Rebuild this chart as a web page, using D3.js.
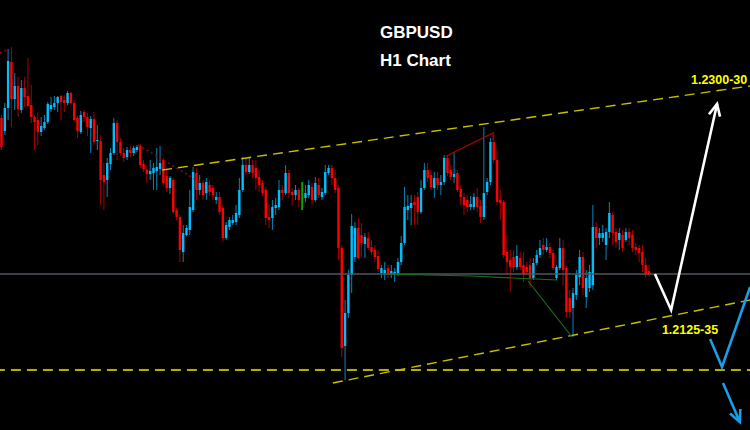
<!DOCTYPE html>
<html><head><meta charset="utf-8">
<script src="https://cdn.jsdelivr.net/npm/d3@7"></script>
<style>html,body{margin:0;padding:0;background:#000;}svg{display:block;}</style>
</head><body>
<script>
// GBPUSD H1 candles (oldest -> newest)
const opens = [1.2282,1.2269,1.2292,1.2338,1.2301,1.2314,1.2290,1.2312,1.2304,1.2295,
1.2283,1.2280,1.2268,1.2272,1.2278,1.2291,1.2293,1.2297,1.2304,1.2300,
1.2297,1.2307,1.2297,1.2282,1.2268,1.2288,1.2283,1.2272,1.2281,1.2259,
1.2259,1.2225,1.2220,1.2236,1.2247,1.2277,1.2258,1.2247,1.2243,1.2250,
1.2247,1.2250,1.2254,1.2236,1.2230,1.2226,1.2227,1.2229,1.2231,1.2240,
1.2224,1.2212,1.2220,1.2190,1.2183,1.2148,1.2165,1.2170,1.2190,1.2227,
1.2210,1.2217,1.2207,1.2215,1.2212,1.2200,1.2203,1.2192,1.2162,1.2173,
1.2177,1.2178,1.2185,1.2210,1.2235,1.2228,1.2235,1.2232,1.2223,1.2217,
1.2210,1.2183,1.2182,1.2192,1.2193,1.2210,1.2207,1.2227,1.2208,1.2205,
1.2210,1.2203,1.2202,1.2205,1.2213,1.2200,1.2215,1.2203,1.2207,1.2227,
1.2232,1.2222,1.2212,1.2152,1.2054,1.2087,1.2125,1.2143,1.2172,1.2165,
1.2156,1.2162,1.2153,1.2150,1.2144,1.2127,1.2126,1.2132,1.2126,1.2125,
1.2127,1.2138,1.2157,1.2190,1.2192,1.2198,1.2203,1.2188,1.2212,1.2230,
1.2225,1.2212,1.2222,1.2215,1.2218,1.2242,1.2230,1.2223,1.2227,1.2211,
1.2203,1.2200,1.2193,1.2193,1.2203,1.2194,1.2183,1.2208,1.2218,1.2258,
1.2240,1.2200,1.2198,1.2148,1.2140,1.2143,1.2133,1.2142,1.2135,1.2133,
1.2135,1.2122,1.2137,1.2145,1.2155,1.2150,1.2153,1.2147,1.2122,1.2132,
1.2152,1.2132,1.2102,1.2092,1.2105,1.2123,1.2143,1.2103,1.2112,1.2115,
1.2173,1.2162,1.2162,1.2155,1.2168,1.2185,1.2168,1.2160,1.2165,1.2160,
1.2168,1.2165,1.2153,1.2152,1.2148,1.2135,1.2129];
const closes = [1.2253,1.2292,1.2339,1.2301,1.2314,1.2291,1.2312,1.2303,1.2294,1.2283,
1.2278,1.2268,1.2274,1.2278,1.2296,1.2295,1.2297,1.2303,1.2298,1.2297,
1.2307,1.2297,1.2280,1.2269,1.2285,1.2283,1.2273,1.2281,1.2258,1.2260,
1.2220,1.2218,1.2237,1.2247,1.2277,1.2258,1.2247,1.2242,1.2250,1.2247,
1.2252,1.2253,1.2235,1.2231,1.2226,1.2229,1.2232,1.2233,1.2237,1.2217,
1.2212,1.2222,1.2188,1.2183,1.2150,1.2167,1.2172,1.2193,1.2228,1.2210,
1.2217,1.2205,1.2218,1.2208,1.2205,1.2203,1.2188,1.2162,1.2175,1.2180,
1.2180,1.2187,1.2210,1.2235,1.2228,1.2235,1.2227,1.2222,1.2215,1.2207,
1.2182,1.2180,1.2193,1.2195,1.2210,1.2207,1.2227,1.2207,1.2205,1.2210,
1.2200,1.2203,1.2207,1.2215,1.2200,1.2217,1.2205,1.2208,1.2228,1.2232,
1.2222,1.2210,1.2152,1.2052,1.2087,1.2125,1.2174,1.2172,1.2142,1.2157,
1.2163,1.2152,1.2148,1.2143,1.2131,1.2132,1.2130,1.2127,1.2129,1.2128,
1.2138,1.2157,1.2193,1.2194,1.2197,1.2195,1.2188,1.2212,1.2230,1.2222,
1.2213,1.2222,1.2215,1.2218,1.2242,1.2227,1.2223,1.2226,1.2210,1.2203,
1.2195,1.2193,1.2196,1.2203,1.2193,1.2183,1.2207,1.2218,1.2258,1.2240,
1.2198,1.2197,1.2145,1.2138,1.2133,1.2133,1.2144,1.2133,1.2125,1.2128,
1.2122,1.2137,1.2145,1.2152,1.2150,1.2153,1.2147,1.2132,1.2133,1.2152,
1.2130,1.2088,1.2088,1.2107,1.2125,1.2143,1.2112,1.2122,1.2128,1.2173,
1.2162,1.2167,1.2167,1.2168,1.2187,1.2167,1.2158,1.2167,1.2152,1.2168,
1.2162,1.2152,1.2150,1.2147,1.2135,1.2125,1.2125];
const highs = [1.2285,1.2297,1.2351,1.2353,1.2327,1.2323,1.2320,1.2323,1.2342,1.2315,
1.2285,1.2288,1.2283,1.2285,1.2298,1.2303,1.2304,1.2304,1.2305,1.2305,
1.2309,1.2308,1.2300,1.2284,1.2289,1.2290,1.2287,1.2284,1.2288,1.2275,
1.2265,1.2237,1.2242,1.2252,1.2282,1.2280,1.2262,1.2252,1.2253,1.2254,
1.2254,1.2255,1.2256,1.2240,1.2235,1.2240,1.2237,1.2252,1.2254,1.2242,
1.2230,1.2224,1.2222,1.2192,1.2185,1.2175,1.2175,1.2210,1.2233,1.2232,
1.2225,1.2220,1.2222,1.2220,1.2215,1.2208,1.2208,1.2195,1.2178,1.2183,
1.2185,1.2195,1.2222,1.2243,1.2242,1.2243,1.2240,1.2240,1.2230,1.2220,
1.2213,1.2195,1.2200,1.2202,1.2220,1.2215,1.2235,1.2230,1.2212,1.2215,
1.2212,1.2218,1.2215,1.2220,1.2217,1.2223,1.2222,1.2212,1.2235,1.2235,
1.2235,1.2230,1.2215,1.2155,1.2100,1.2130,1.2186,1.2178,1.2182,1.2177,
1.2167,1.2168,1.2160,1.2155,1.2150,1.2135,1.2138,1.2135,1.2135,1.2132,
1.2142,1.2164,1.2213,1.2205,1.2205,1.2205,1.2208,1.2220,1.2237,1.2237,
1.2230,1.2228,1.2228,1.2225,1.2245,1.2245,1.2235,1.2247,1.2230,1.2215,
1.2207,1.2205,1.2204,1.2207,1.2212,1.2200,1.2273,1.2222,1.2262,1.2267,
1.2250,1.2210,1.2200,1.2165,1.2150,1.2150,1.2155,1.2148,1.2148,1.2138,
1.2142,1.2142,1.2150,1.2160,1.2162,1.2162,1.2157,1.2150,1.2135,1.2162,
1.2160,1.2135,1.2110,1.2112,1.2130,1.2150,1.2148,1.2130,1.2135,1.2195,
1.2178,1.2172,1.2175,1.2172,1.2198,1.2188,1.2172,1.2172,1.2170,1.2172,
1.2172,1.2170,1.2157,1.2155,1.2155,1.2142,1.2135];
const lows = [1.2250,1.2265,1.2280,1.2273,1.2290,1.2283,1.2287,1.2293,1.2293,1.2277,
1.2250,1.2255,1.2264,1.2270,1.2276,1.2288,1.2290,1.2288,1.2280,1.2288,
1.2295,1.2295,1.2278,1.2262,1.2266,1.2278,1.2264,1.2247,1.2255,1.2250,
1.2195,1.2190,1.2203,1.2230,1.2245,1.2240,1.2244,1.2238,1.2240,1.2243,
1.2244,1.2248,1.2232,1.2228,1.2217,1.2220,1.2210,1.2210,1.2225,1.2214,
1.2208,1.2206,1.2186,1.2180,1.2138,1.2138,1.2164,1.2165,1.2188,1.2200,
1.2205,1.2200,1.2200,1.2204,1.2200,1.2196,1.2185,1.2158,1.2160,1.2170,
1.2175,1.2175,1.2182,1.2208,1.2225,1.2226,1.2222,1.2210,1.2208,1.2204,
1.2175,1.2172,1.2170,1.2185,1.2190,1.2200,1.2205,1.2202,1.2195,1.2200,
1.2193,1.2190,1.2198,1.2202,1.2195,1.2198,1.2202,1.2200,1.2205,1.2225,
1.2215,1.2207,1.2140,1.2043,1.2020,1.2082,1.2107,1.2138,1.2140,1.2143,
1.2142,1.2150,1.2145,1.2138,1.2128,1.2122,1.2120,1.2122,1.2122,1.2118,
1.2124,1.2135,1.2155,1.2180,1.2175,1.2175,1.2175,1.2186,1.2210,1.2218,
1.2210,1.2202,1.2210,1.2205,1.2215,1.2224,1.2220,1.2217,1.2208,1.2195,
1.2185,1.2188,1.2190,1.2190,1.2188,1.2177,1.2180,1.2205,1.2215,1.2237,
1.2195,1.2180,1.2142,1.2125,1.2108,1.2128,1.2130,1.2130,1.2118,1.2125,
1.2112,1.2120,1.2135,1.2142,1.2145,1.2148,1.2142,1.2130,1.2120,1.2130,
1.2115,1.2082,1.2082,1.2063,1.2100,1.2115,1.2105,1.2092,1.2108,1.2110,
1.2152,1.2155,1.2158,1.2140,1.2162,1.2155,1.2152,1.2150,1.2148,1.2158,
1.2155,1.2148,1.2145,1.2138,1.2128,1.2122,1.2123];

// Annotations: [candle index, price]
const upperChannel = [[48.6, 1.2230], [226.6, 1.2314]];
const lowerChannel = [[100.3, 1.2017], [226.6, 1.2100]];
const supportLevel = 1.2030;
const bidLevel = 1.2126;
const greenFlat = [[116.1, 1.2126], [142, 1.2124], [168.2, 1.2120]];
const greenDiag = [[159.4, 1.2119], [172.7, 1.2063]];
const redDotted1 = [[-0.5, 1.2347], [2.2, 1.2351]];
const redDotted2 = [[41.3, 1.2255], [60.1, 1.2218]];
const redSolid = [[134.6, 1.2244], [148.8, 1.2267], [148.8, 1.2260]];
const whitePath = [[197.8, 1.2126], [202.7, 1.2090], [216.6, 1.2296]];
const bluePath1 = [[214.5, 1.2061], [218.1, 1.2033], [226.6, 1.2113]];
const bluePath2 = [[218.4, 1.2017], [223.5, 1.1978]];
const levelLabels = [
  {text: "1.2300-30", i: 208.7, p: 1.2316},
  {text: "1.2125-35", i: 199.9, p: 1.2066}
];
const titleLines = ["GBPUSD", "H1 Chart"];

const W = 750, H = 430;
const svg = d3.select("body").append("svg").attr("width", W).attr("height", H);
svg.append("rect").attr("width", W).attr("height", H).attr("fill", "#000");

const x = d3.scaleLinear().domain([0, opens.length - 1]).range([1.5, 649]);
const y = d3.scaleLinear().domain([1.1970, 1.2400]).range([H, 0]);
const line = d3.line().x(d => x(d[0])).y(d => y(d[1]));

const candles = opens.map((o, i) => ({i, o, c: closes[i], h: highs[i], l: lows[i]}));

// horizontal support dashed line
svg.append("line")
  .attr("x1", x(-2)).attr("x2", x(230))
  .attr("y1", y(supportLevel)).attr("y2", y(supportLevel))
  .attr("stroke", "#b4ac00").attr("stroke-width", 2).attr("stroke-dasharray", "10,6");

// candles
const g = svg.append("g");
g.selectAll("line.wick").data(candles).join("line")
  .attr("class", "wick")
  .attr("x1", d => x(d.i)).attr("x2", d => x(d.i))
  .attr("y1", d => y(d.h)).attr("y2", d => y(d.l))
  .attr("stroke", d => d.c > d.o ? "#0b84b8" : d.c < d.o ? "#a80000" : "#00b000")
  .attr("stroke-width", 1);
g.selectAll("rect.body").data(candles.filter(d => d.c !== d.o)).join("rect")
  .attr("class", "body")
  .attr("x", d => x(d.i) - 1.2).attr("width", 2.4)
  .attr("y", d => y(Math.max(d.o, d.c)))
  .attr("height", d => Math.max(1, Math.abs(y(d.o) - y(d.c))))
  .attr("fill", d => d.c > d.o ? "#00bfff" : "#ff0000");
g.selectAll("line.doji").data(candles.filter(d => d.c === d.o)).join("line")
  .attr("class", "doji")
  .attr("x1", d => x(d.i)).attr("x2", d => x(d.i))
  .attr("y1", d => y(d.h)).attr("y2", d => y(d.l))
  .attr("stroke", "#00c800").attr("stroke-width", 1.2);

// bid line
svg.append("line")
  .attr("x1", 0).attr("x2", W)
  .attr("y1", y(bidLevel)).attr("y2", y(bidLevel))
  .attr("stroke", "#4f565e").attr("stroke-width", 1.5);

// channel lines
[upperChannel, lowerChannel].forEach(pts => {
  svg.append("path").attr("d", line(pts)).attr("fill", "none")
    .attr("stroke", "#c8c000").attr("stroke-width", 1.4).attr("stroke-dasharray", "10,6");
});

// green lines
[greenFlat, greenDiag].forEach(pts => {
  svg.append("path").attr("d", line(pts)).attr("fill", "none")
    .attr("stroke", "#1a6e1a").attr("stroke-width", 1.2);
});

// red lines
[redDotted1, redDotted2].forEach(pts => {
  svg.append("path").attr("d", line(pts)).attr("fill", "none")
    .attr("stroke", "#a00000").attr("stroke-width", 1.5).attr("stroke-dasharray", "2,3");
});
svg.append("path").attr("d", line(redSolid)).attr("fill", "none")
  .attr("stroke", "#b00000").attr("stroke-width", 1.2);

// arrows
function arrow(pts, color) {
  svg.append("path").attr("d", line(pts)).attr("fill", "none")
    .attr("stroke", color).attr("stroke-width", 2.6).attr("stroke-linejoin", "miter");
  const a = pts[pts.length - 2], b = pts[pts.length - 1];
  const bx = x(b[0]), by = y(b[1]);
  const ang = Math.atan2(by - y(a[1]), bx - x(a[0]));
  const len = 13, spread = Math.PI / 7;
  const head = [
    [bx - len * Math.cos(ang - spread), by - len * Math.sin(ang - spread)],
    [bx, by],
    [bx - len * Math.cos(ang + spread), by - len * Math.sin(ang + spread)]
  ];
  svg.append("path").attr("d", d3.line()(head)).attr("fill", "none")
    .attr("stroke", color).attr("stroke-width", 2.6);
}
arrow(whitePath, "#ffffff");
svg.append("path").attr("d", line(bluePath1)).attr("fill", "none")
  .attr("stroke", "#1c9ee6").attr("stroke-width", 2.6);
arrow(bluePath2, "#1c9ee6");

// level labels
svg.selectAll("text.lvl").data(levelLabels).join("text")
  .attr("class", "lvl")
  .attr("x", d => x(d.i)).attr("y", d => y(d.p))
  .attr("fill", "#ffff00")
  .attr("font-family", "'Liberation Sans', Arial, sans-serif")
  .attr("font-weight", "bold").attr("font-size", 12.5)
  .text(d => d.text);

// title
svg.selectAll("text.title").data(titleLines).join("text")
  .attr("class", "title")
  .attr("x", 380).attr("y", (d, i) => 38 + i * 27.5)
  .attr("fill", "#ffffff")
  .attr("font-family", "'Liberation Sans', Arial, sans-serif")
  .attr("font-weight", "bold").attr("font-size", 17)
  .text(d => d);
</script>
</body></html>
